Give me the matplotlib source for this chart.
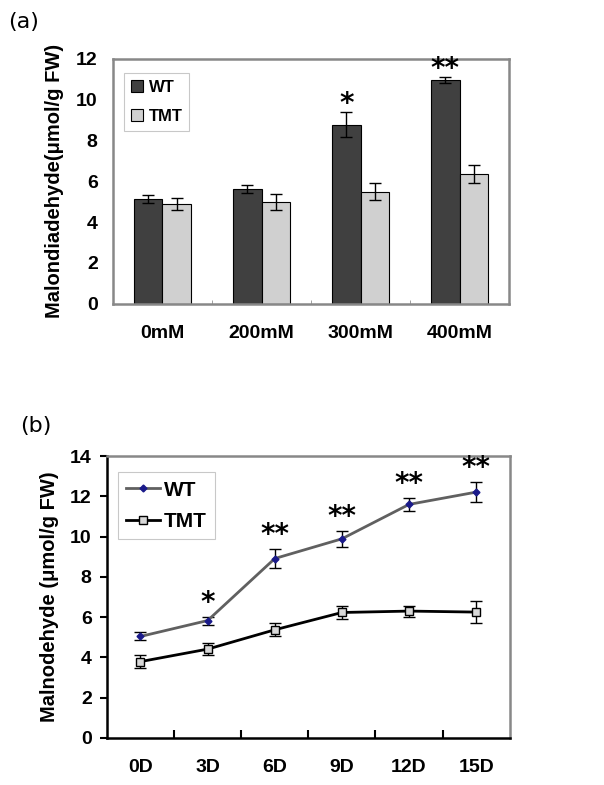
import matplotlib.pyplot as plt
from matplotlib.lines import Line2D
import numpy as np

plt.rcParams['font.family'] = ['Liberation Sans Narrow', 'Liberation Sans', 'DejaVu Sans']

# panel (a): malondialdehyde under salt concentrations
conc = ["0mM", "200mM", "300mM", "400mM"]
wt_a = [5.14, 5.63, 8.78, 10.97]
wt_a_err = [0.18, 0.2, 0.63, 0.16]
tmt_a = [4.9, 4.98, 5.5, 6.37]
tmt_a_err = [0.3, 0.4, 0.41, 0.44]
stars_a = ["", "", "*", "**"]

# panel (b): time course
days = ["0D", "3D", "6D", "9D", "12D", "15D"]
wt_b = [5.04, 5.83, 8.91, 9.89, 11.6, 12.21]
wt_b_err = [0.2, 0.2, 0.46, 0.4, 0.33, 0.5]
tmt_b = [3.79, 4.41, 5.37, 6.23, 6.3, 6.25]
tmt_b_err = [0.33, 0.3, 0.33, 0.33, 0.27, 0.55]
stars_b = ["", "*", "**", "**", "**", "**"]

fig = plt.figure(figsize=(6.04, 7.85), dpi=100)

# ---- (a)
ax = fig.add_axes([0.187, 0.613, 0.656, 0.312])
x = np.arange(len(conc))
w = 0.29
ax.bar(x - w / 2, wt_a, w, color="#404040", edgecolor="black", linewidth=0.8, label="WT",
       yerr=wt_a_err, capsize=4, error_kw=dict(elinewidth=1, ecolor="black", capthick=1))
ax.bar(x + w / 2, tmt_a, w, color="#d0d0d0", edgecolor="black", linewidth=0.8, label="TMT",
       yerr=tmt_a_err, capsize=4, error_kw=dict(elinewidth=1, ecolor="black", capthick=1))
for i, s in enumerate(stars_a):
    if s:
        ax.text(x[i] - w / 2, wt_a[i] + wt_a_err[i] - 0.3, s, ha="center", va="bottom",
                fontsize=20, fontweight="bold", family="DejaVu Sans")
ax.set_xlim(-0.5, len(conc) - 0.5)
ax.set_ylim(0, 12)
ax.set_yticks(range(0, 13, 2))
ax.set_xticks(x)
ax.set_xticklabels(conc)
ax.set_xticks(np.arange(0.5, len(conc) - 1, 1), minor=True)
ax.tick_params(axis="x", which="major", length=0, pad=15)
ax.tick_params(axis="x", which="minor", length=3, direction="in", color="#909090")
ax.tick_params(axis="y", length=0, pad=11)
for lab in ax.get_xticklabels() + ax.get_yticklabels():
    lab.set_fontsize(14)
    lab.set_fontweight("bold")
for sp in ax.spines.values():
    sp.set_color("#888888")
    sp.set_linewidth(1.8)
ax.set_ylabel("Malondiadehyde(μmol/g FW)", fontsize=14.5, fontweight="bold", labelpad=9)
leg = ax.legend(loc="upper left", bbox_to_anchor=(0.008, 0.975), fancybox=False,
                prop={"weight": "bold", "size": 12}, handlelength=0.7, handleheight=0.7,
                handletextpad=0.35, borderpad=0.4, labelspacing=0.85)
leg.get_frame().set_edgecolor("#bbbbbb")
leg.get_frame().set_linewidth(0.8)
fig.text(0.013, 0.972, "(a)", fontsize=16, ha="left", va="center", family="DejaVu Sans")

# ---- (b)
ax2 = fig.add_axes([0.177, 0.06, 0.667, 0.359])
xb = np.arange(len(days))
ax2.errorbar(xb, wt_b, yerr=wt_b_err, color="#606060", linewidth=2, marker="D", markersize=3.5,
             markerfacecolor="#1a1a8a", markeredgecolor="#1a1a8a", ecolor="black", elinewidth=1,
             capsize=4)
ax2.errorbar(xb, tmt_b, yerr=tmt_b_err, color="black", linewidth=2, marker="s", markersize=6,
             markerfacecolor="#d8d8d8", markeredgecolor="black", ecolor="black", elinewidth=1,
             capsize=4)
for i, s in enumerate(stars_b):
    if s:
        ax2.text(xb[i], wt_b[i] + wt_b_err[i] + 0.0, s, ha="center", va="bottom",
                 fontsize=20, fontweight="bold", family="DejaVu Sans")
ax2.set_xlim(-0.5, len(days) - 0.5)
ax2.set_ylim(0, 14)
ax2.set_yticks(range(0, 15, 2))
ax2.set_xticks(xb)
ax2.set_xticklabels(days)
ax2.set_xticks(np.arange(0.5, len(days) - 1, 1), minor=True)
ax2.tick_params(axis="x", which="major", length=0, pad=15)
ax2.tick_params(axis="x", which="minor", length=6, width=1.5, direction="in", color="black")
ax2.tick_params(axis="y", length=5, width=1.5, direction="out", pad=6)
for lab in ax2.get_xticklabels() + ax2.get_yticklabels():
    lab.set_fontsize(14)
    lab.set_fontweight("bold")
ax2.spines["left"].set_color("black")
ax2.spines["bottom"].set_color("black")
ax2.spines["top"].set_color("#888888")
ax2.spines["right"].set_color("#888888")
for sp in ax2.spines.values():
    sp.set_linewidth(1.8)
ax2.set_ylabel("Malnodehyde (μmol/g FW)", fontsize=14.5, fontweight="bold", labelpad=8)
handles = [
    Line2D([], [], color="#606060", linewidth=2, marker="D", markersize=3.5,
           markerfacecolor="#1a1a8a", markeredgecolor="#1a1a8a"),
    Line2D([], [], color="black", linewidth=2, marker="s", markersize=6,
           markerfacecolor="#d8d8d8", markeredgecolor="black"),
]
leg2 = ax2.legend(handles, ["WT", "TMT"], loc="upper left", bbox_to_anchor=(0.012, 0.965),
                  fancybox=False, prop={"weight": "bold", "size": 15}, handlelength=1.6,
                  handletextpad=0.2, borderpad=0.4, labelspacing=0.6, borderaxespad=0.3)
leg2.get_frame().set_edgecolor("#bbbbbb")
leg2.get_frame().set_linewidth(0.8)
fig.text(0.033, 0.457, "(b)", fontsize=16, ha="left", va="center", family="DejaVu Sans")

fig.savefig("out.png", dpi=100)
